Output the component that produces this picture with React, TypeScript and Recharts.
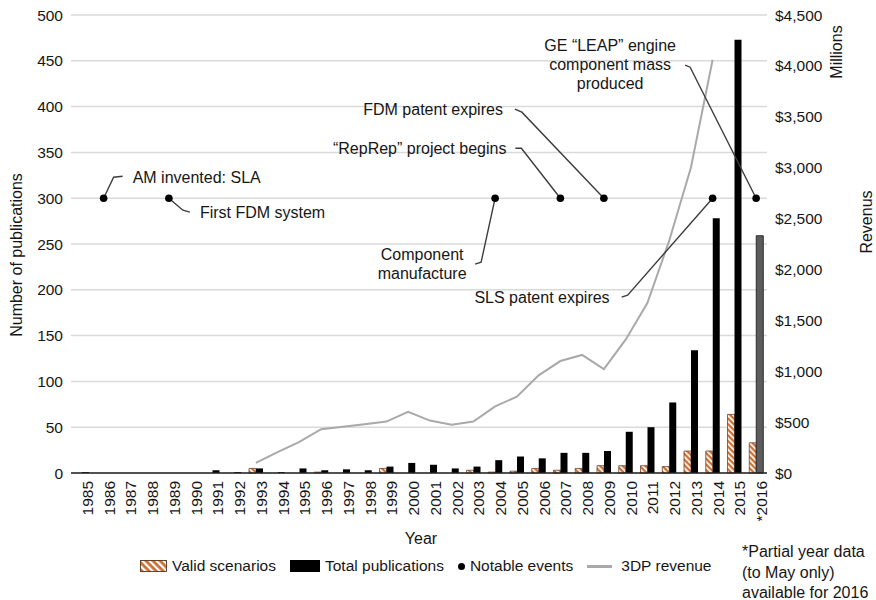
import React from "react";
import {
  ComposedChart,
  Bar,
  Line,
  Scatter,
  XAxis,
  YAxis,
  CartesianGrid,
  Cell,
} from "recharts";

const years = [
  "1985", "1986", "1987", "1988", "1989", "1990", "1991", "1992",
  "1993", "1994", "1995", "1996", "1997", "1998", "1999", "2000",
  "2001", "2002", "2003", "2004", "2005", "2006", "2007", "2008",
  "2009", "2010", "2011", "2012", "2013", "2014", "2015", "*2016",
];

const totalPublications = [
  1, 0, 0, 0, 0, 0, 3, 1, 5, 1, 5, 3, 4, 3, 7, 11,
  9, 5, 7, 14, 18, 16, 22, 22, 24, 45, 50, 77, 134, 278, 473, 259,
];

const validScenarios = [
  0, 0, 0, 0, 0, 0, 0, 0, 5, 0, 0, 1, 0, 0, 5, 0,
  0, 0, 3, 1, 2, 5, 3, 5, 8, 8, 8, 7, 24, 24, 64, 33,
];

// 3DP revenue, $ millions
const revenue = [
  null, null, null, null, null, null, null, null, 100, 205, 305, 430, 455, 480, 505, 600,
  515, 475, 505, 655, 750, 960, 1100, 1160, 1020, 1310, 1670, 2280, 3000, 4060, null, null,
];

const eventYears = ["1986", "1989", "2004", "2007", "2009", "2014", "*2016"];
const eventLevel = 300;
const eventLabels = [
  ["AM invented: SLA"],
  ["First FDM system"],
  ["Component", "manufacture"],
  ["\u201cRepRep\u201d project begins"],
  ["FDM patent expires"],
  ["SLS patent expires"],
  ["GE \u201cLEAP\u201d engine", "component mass", "produced"],
];

const pubTicks = [0, 50, 100, 150, 200, 250, 300, 350, 400, 450, 500];
const revTicks = [0, 500, 1000, 1500, 2000, 2500, 3000, 3500, 4000, 4500];

// leader line layout, pixel offsets from each event dot
const leaders = [
  { elbow: [10, -21], end: [19, -22], text: [29, -21], anchor: "start" },
  { elbow: [14, 12], end: [21, 14], text: [31, 14], anchor: "start" },
  { elbow: [-14, 64], end: [-20, 66], text: [-73, 56], anchor: "middle" },
  { elbow: [-39, -50], end: [-45, -50], text: [-54, -50], anchor: "end" },
  { elbow: [-82, -86], end: [-89, -89], text: [-101, -89], anchor: "end" },
  { elbow: [-85, 97], end: [-91, 99], text: [-103, 99], anchor: "end" },
  { elbow: [-66, -131], end: [-71, -133], text: [-146, -153], anchor: "middle" },
];

const data = years.map((year, i) => {
  const ev = eventYears.indexOf(year);
  return {
    year,
    valid: validScenarios[i],
    total: totalPublications[i],
    revenue: revenue[i],
    event: ev >= 0 ? eventLevel : null,
    eventIndex: ev,
  };
});

const FONT = "'Liberation Sans', Arial, Helvetica, sans-serif";
const TEXT = "#161616";
const ORANGE = "#cc6f33";

function EventMark(props: any) {
  const { cx, cy, payload } = props;
  if (!payload || payload.eventIndex < 0 || cx == null || cy == null) return <g />;
  const l = leaders[payload.eventIndex];
  const lines = eventLabels[payload.eventIndex];
  return (
    <g>
      <polyline
        points={`${cx},${cy} ${cx + l.elbow[0]},${cy + l.elbow[1]} ${cx + l.end[0]},${cy + l.end[1]}`}
        fill="none"
        stroke="#3d3d3d"
        strokeWidth={1.4}
      />
      <circle cx={cx} cy={cy} r={3.8} fill="#000" />
      <text
        x={cx + l.text[0]}
        y={cy + l.text[1]}
        textAnchor={l.anchor}
        dominantBaseline="central"
        fontFamily={FONT}
        fontSize={16}
        fill={TEXT}
      >
        {lines.map((t, k) => (
          <tspan key={k} x={cx + l.text[0]} dy={k === 0 ? 0 : 19}>
            {t}
          </tspan>
        ))}
      </text>
    </g>
  );
}

function HatchSwatch() {
  return (
    <svg width={27} height={12} style={{ display: "block" }}>
      <defs>
        <pattern id="hatchLegend" patternUnits="userSpaceOnUse" width={5} height={5} patternTransform="rotate(45)">
          <rect width={5} height={5} fill="#fff" />
          <rect width={5} height={2.8} fill={ORANGE} />
        </pattern>
      </defs>
      <rect x={0.5} y={0.5} width={26} height={11} fill="url(#hatchLegend)" stroke="#5a3218" strokeWidth={0.9} />
    </svg>
  );
}

export default function App() {
  const legendItem = { display: "flex", alignItems: "center", gap: 5 } as const;
  return (
    <div
      style={{
        position: "absolute",
        left: 0,
        top: 0,
        width: 876,
        height: 600,
        background: "#fff",
        fontFamily: FONT,
        color: TEXT,
      }}
    >
      <ComposedChart
        width={876}
        height={600}
        data={data}
        margin={{ top: 15, right: 0, bottom: 67, left: 0 }}
        barSize={7}
        barGap={0}
      >
        <defs>
          <pattern id="hatch" patternUnits="userSpaceOnUse" width={4} height={4} patternTransform="rotate(45)">
            <rect width={4} height={4} fill="#fff" />
            <rect width={4} height={2.3} fill={ORANGE} />
          </pattern>
        </defs>
        <CartesianGrid vertical={false} yAxisId="pub" stroke="#dadada" strokeWidth={1.5} />
        <XAxis
          dataKey="year"
          interval={0}
          height={60}
          angle={-90}
          textAnchor="end"
          tickLine={false}
          axisLine={{ stroke: "#222", strokeWidth: 1.5 }}
          tick={{ fontSize: 15.5, fill: TEXT, fontFamily: FONT }}
        />
        <YAxis
          yAxisId="pub"
          width={71}
          domain={[0, 500]}
          ticks={pubTicks}
          interval={0}
          axisLine={false}
          tickLine={false}
          tick={{ fontSize: 15.5, fill: TEXT, fontFamily: FONT }}
        />
        <YAxis
          yAxisId="rev"
          orientation="right"
          width={109}
          domain={[0, 4500]}
          ticks={revTicks}
          interval={0}
          axisLine={false}
          tickLine={false}
          tickFormatter={(v: number) => `$${v.toLocaleString("en-US")}`}
          tick={{ fontSize: 15.5, fill: TEXT, fontFamily: FONT }}
        />
        <Scatter yAxisId="pub" dataKey="event" shape={EventMark} isAnimationActive={false} />
        <Bar
          yAxisId="pub"
          dataKey="valid"
          fill="url(#hatch)"
          stroke="#5a3218"
          strokeWidth={0.7}
          isAnimationActive={false}
        />
        <Bar yAxisId="pub" dataKey="total" fill="#000" isAnimationActive={false}>
          {data.map((d, i) => (
            <Cell
              key={d.year}
              fill={i === data.length - 1 ? "#5c5c5c" : "#000"}
              stroke={i === data.length - 1 ? "#2a2a2a" : "none"}
            />
          ))}
        </Bar>
        <Line
          yAxisId="rev"
          dataKey="revenue"
          type="linear"
          stroke="#a9a9a9"
          strokeWidth={2}
          dot={false}
          isAnimationActive={false}
        />
        <text x={421} y={538} textAnchor="middle" dominantBaseline="central" fontSize={16} fontFamily={FONT} fill={TEXT}>
          Year
        </text>
        <text
          transform="translate(16 255) rotate(-90)"
          textAnchor="middle"
          dominantBaseline="central"
          fontSize={16}
          fontFamily={FONT}
          fill={TEXT}
        >
          Number of publications
        </text>
        <text
          transform="translate(836 52) rotate(-90)"
          textAnchor="middle"
          dominantBaseline="central"
          fontSize={16}
          fontFamily={FONT}
          fill={TEXT}
        >
          Millions
        </text>
        <text
          transform="translate(866 222) rotate(-90)"
          textAnchor="middle"
          dominantBaseline="central"
          fontSize={16}
          fontFamily={FONT}
          fill={TEXT}
        >
          Revenus
        </text>
      </ComposedChart>

      <div
        style={{
          position: "absolute",
          left: 140,
          top: 556,
          display: "flex",
          alignItems: "center",
          gap: 14,
          fontSize: 15.5,
          lineHeight: "20px",
          whiteSpace: "nowrap",
        }}
      >
        <div style={legendItem}>
          <HatchSwatch />
          <span>Valid scenarios</span>
        </div>
        <div style={legendItem}>
          <div style={{ width: 30, height: 12, background: "#000" }} />
          <span>Total publications</span>
        </div>
        <div style={legendItem}>
          <div style={{ width: 7, height: 7, borderRadius: "50%", background: "#000" }} />
          <span>Notable events</span>
        </div>
        <div style={legendItem}>
          <div style={{ width: 25, height: 3, background: "#a9a9a9", marginRight: 4 }} />
          <span>3DP revenue</span>
        </div>
      </div>

      <div
        style={{
          position: "absolute",
          left: 742,
          top: 542,
          fontSize: 16,
          lineHeight: "20.5px",
          whiteSpace: "nowrap",
        }}
      >
        *Partial year data
        <br />
        (to May only)
        <br />
        available for 2016
      </div>
    </div>
  );
}
